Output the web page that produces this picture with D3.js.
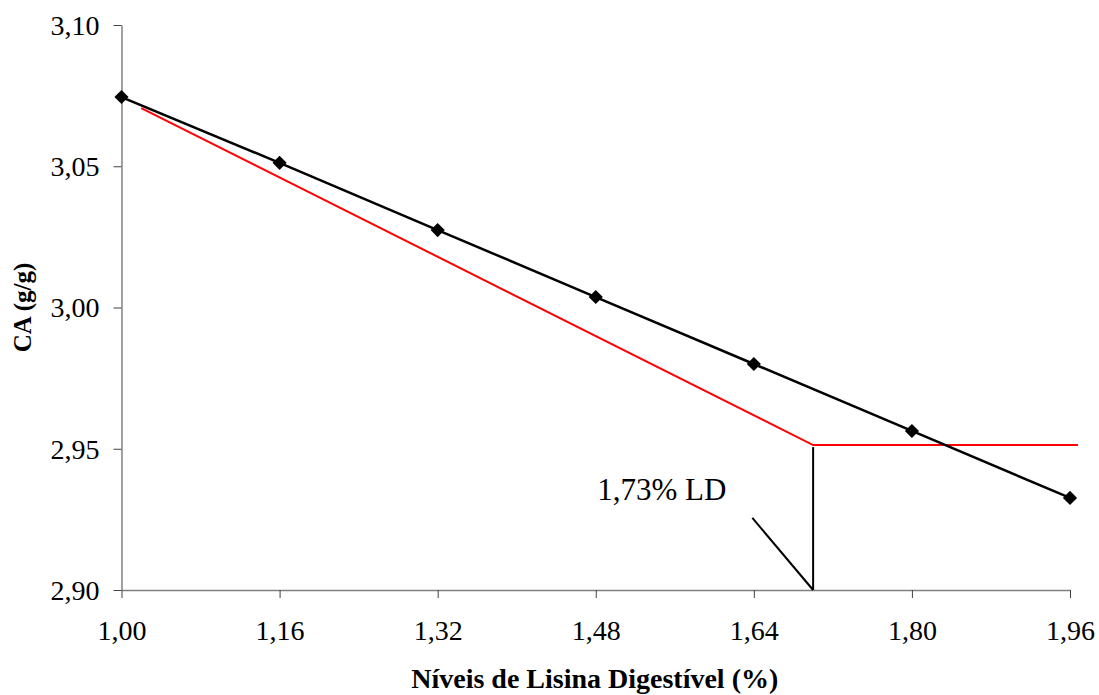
<!DOCTYPE html>
<html>
<head>
<meta charset="utf-8">
<script src="https://cdn.jsdelivr.net/npm/d3@7"></script>
<style>
  body { margin: 0; background: #fff; }
  text { font-family: "Liberation Serif", "Times New Roman", serif; }
</style>
</head>
<body>
<div id="holder"></div>
<script>
// observed values
var niveis = [1.00, 1.16, 1.32, 1.48, 1.64, 1.80, 1.96];
var ca = [3.0745, 3.0512, 3.0274, 3.0037, 2.9800, 2.9563, 2.9326];

// broken-line fit (plateau)
var platoX = [1.02, 1.70, 1.968];
var platoY = [3.0706, 2.9513, 2.9513];

var xTicks = [1.00, 1.16, 1.32, 1.48, 1.64, 1.80, 1.96];
var yTicks = [2.90, 2.95, 3.00, 3.05, 3.10];

var breakX = 1.70;
var labelText = '1,73% LD';

var fullWidth = 1099;
var fullHeight = 695;
var margin = {top: 25, right: 29, bottom: 105, left: 121.5};
var width = fullWidth - margin.left - margin.right;
var height = fullHeight - margin.top - margin.bottom;

var svg = d3.select('#holder').append('svg')
  .attr('width', fullWidth)
  .attr('height', fullHeight)
  .append('g')
  .attr('transform', 'translate(' + margin.left + ',' + margin.top + ')');

var x = d3.scaleLinear().domain([1.00, 1.96]).range([0, width]);
var y = d3.scaleLinear().domain([2.90, 3.10]).range([height, 0]);

var fmt = function(d) { return d3.format('.2f')(d).replace('.', ','); };

var xaxis = d3.axisBottom(x).tickValues(xTicks).tickFormat(fmt).tickSize(8).tickSizeOuter(0);
var yaxis = d3.axisLeft(y).tickValues(yTicks).tickFormat(fmt).tickSize(8).tickSizeOuter(0);

var gx = svg.append('g')
  .classed('x axis', true)
  .attr('transform', 'translate(0,' + height + ')')
  .call(xaxis);
var gy = svg.append('g')
  .classed('y axis', true)
  .call(yaxis);

[gx, gy].forEach(function(g) {
  g.select('.domain').attr('stroke', '#808080').attr('stroke-width', 1.5);
  g.selectAll('.tick line').attr('stroke', '#404040').attr('stroke-width', 1);
  g.selectAll('.tick text')
    .attr('fill', '#000')
    .style('font-size', '28px')
    .style('font-family', '"Liberation Serif", serif');
});
gx.selectAll('.tick text').attr('y', 50).attr('dy', 0);
gy.selectAll('.tick text').attr('x', -22).attr('dy', '0.33em');

// fitted plateau line
var line = d3.line()
  .x(function(d) { return x(d[0]); })
  .y(function(d) { return y(d[1]); });

svg.append('path')
  .datum(d3.zip(platoX, platoY))
  .attr('d', line)
  .attr('fill', 'none')
  .attr('stroke', '#ff0000')
  .attr('stroke-width', 2);

// vertical drop at break point and pointer
svg.append('line')
  .attr('x1', x(breakX)).attr('x2', x(breakX))
  .attr('y1', y(platoY[1]) + 2).attr('y2', y(2.90))
  .attr('stroke', '#000').attr('stroke-width', 2);

svg.append('line')
  .attr('x1', x(1.6385)).attr('y1', y(2.9255))
  .attr('x2', x(breakX)).attr('y2', y(2.90))
  .attr('stroke', '#000').attr('stroke-width', 2);

svg.append('text')
  .attr('x', x(1.4815))
  .attr('y', y(2.9317))
  .style('font-size', '31px')
  .text(labelText);

// observed series
svg.append('path')
  .datum(d3.zip(niveis, ca))
  .attr('d', line)
  .attr('fill', 'none')
  .attr('stroke', '#000')
  .attr('stroke-width', 2.5);

svg.selectAll('path.pt')
  .data(d3.zip(niveis, ca))
  .enter().append('path')
  .classed('pt', true)
  .attr('d', d3.symbol(d3.symbolSquare, 100))
  .attr('transform', function(d) {
    return 'translate(' + x(d[0]) + ',' + y(d[1]) + ') rotate(45)';
  })
  .attr('fill', '#000');

// axis titles
svg.append('text')
  .attr('x', width / 2 - 1)
  .attr('y', height + 98)
  .attr('text-anchor', 'middle')
  .style('font-size', '28px')
  .style('font-weight', 'bold')
  .text('Níveis de Lisina Digestível (%)');

svg.append('text')
  .attr('transform', 'translate(' + (-91) + ',' + (y(3.00)) + ') rotate(-90)')
  .attr('text-anchor', 'middle')
  .style('font-size', '25px')
  .style('font-weight', 'bold')
  .text('CA (g/g)');
</script>
</body>
</html>
